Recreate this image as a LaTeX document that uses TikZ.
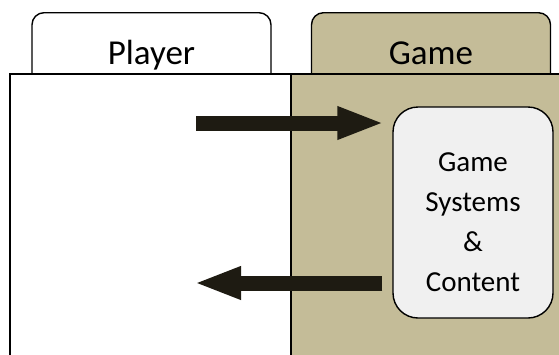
\documentclass[tikz,border=0pt]{standalone}
\usepackage{fontspec}
\setmainfont{Carlito}
\usetikzlibrary{arrows.meta}
\definecolor{gametan}{RGB}{196,188,152}
\definecolor{boxgrey}{RGB}{240,240,240}
\definecolor{arrowdark}{RGB}{30,27,18}
\begin{document}
\begin{tikzpicture}[
            x=1pt, y=-1pt,
            tab/.style={draw, line width=1.4pt, rounded corners=12pt, anchor=north,
                minimum width=239pt, minimum height=80pt, text depth=0pt,
                font=\fontsize{35}{40}\selectfont},
            side/.style={draw, line width=1.6pt, anchor=north west,
                minimum width=281pt, minimum height=300pt},
            contentbox/.style={draw, line width=1.4pt, fill=boxgrey, rounded corners=25pt,
                minimum width=160pt, minimum height=211pt, align=center,
                font=\fontsize{29}{40}\selectfont},
            flow/.style={draw=arrowdark, line width=15pt,
                -{Triangle[length=47pt, width=30pt]}, arrowdark}
            ]
            \useasboundingbox (0,0) rectangle (559,354);

            \node[tab, fill=white] (playertab) at (151.5,12) {Player};
            \node[tab, fill=gametan] (gametab) at (431,12) {Game};

            \node[side, fill=white] (playerside) at (9,73) {};
            \node[side, fill=gametan] (gameside) at (290,73) {};

            \node[contentbox] (systems) at (473,212.5) {};
            \node[font=\fontsize{29}{40}\selectfont, align=center] (systemstext) at (473,222)
                {Game\\Systems\\\&\\Content};

            \coordinate (fromplayer) at (196,123);
            \coordinate (toplayer) at (194,283);

            \draw[flow, shorten >=8pt] (fromplayer) -- (systems.west |- fromplayer);
            \draw[flow, shorten <=10pt] (systems.west |- toplayer) -- (toplayer);
        \end{tikzpicture}
\end{document}
